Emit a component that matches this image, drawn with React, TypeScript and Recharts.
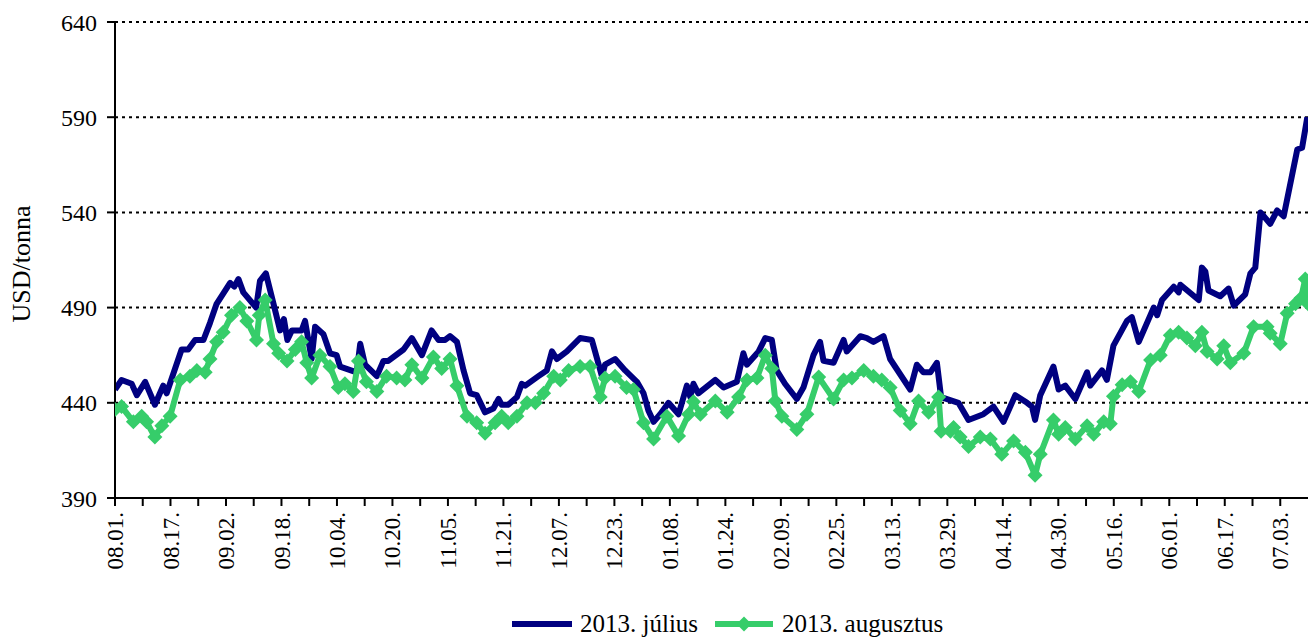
import React from 'react';
import { LineChart, Line, XAxis, YAxis, CartesianGrid, Legend, Label } from 'recharts';

// days counted from 2012.08.01.
const julDays = [
  0, 1.9, 4.8, 6.3, 8.7, 11.5, 13.9, 14.9, 19.2, 21.1, 23.1, 25.5, 27.4, 29.3, 33.2, 34.4, 35.6, 37, 40.7, 41.8,
  43.5, 45.7, 47.6, 48.7, 49.7, 51, 53.8, 54.8, 56.7, 57.7, 60.1, 62, 63.9, 64.9, 69.7, 70.7, 72.1, 75.5, 77.4, 78.8,
  83.2, 85.6, 88.5, 91.3, 93.3, 95.2, 96.6, 98.6, 100.5, 102.4, 104.3, 106.7, 109.1, 110.6, 111.5, 113.4, 115.9, 117.3, 118.3, 119.8,
  122.1, 124.5, 126, 127.4, 130.3, 134.1, 137.5, 140.4, 141.3, 144.2, 147.1, 150.5, 152.4, 153.8, 155.3, 157.2, 159.6, 162.5, 164.9, 165.9,
  166.8, 168.2, 173.1, 175.5, 179.3, 181.2, 182.2, 185.6, 187.5, 189.4, 190.8, 193.2, 196.6, 198.5, 201.4, 203.3, 204.3, 207.2, 210.1, 211,
  214.9, 216.8, 218.7, 221.6, 223.5, 226.4, 229.3, 231.2, 233.1, 235.1, 237, 238.2, 243.2, 246.1, 250.4, 253.3, 256.2, 259.6, 263, 264.4,
  265.3, 266.8, 270.6, 272.1, 274, 276.9, 280.3, 281.2, 284.6, 286, 287.9, 291.8, 293.2, 295.2, 299.5, 300.5, 301.9, 305.3, 306.7, 307.2,
  312.5, 313.4, 314.4, 315.3, 318.7, 321.1, 322.6, 325.9, 327.4, 328.8, 330.3, 333.1, 335.1, 337, 340.9, 342.3, 343.8,
];
const julValues = [
  447, 452, 450, 444, 451, 439, 449, 445, 468, 468, 473, 473, 482, 492, 503, 501, 505, 498, 490, 504,
  508, 492, 478, 484, 473, 478, 478, 483, 463, 480, 476, 466, 465, 459, 456, 471, 460, 454, 462, 462,
  468, 474, 465, 478, 473, 473, 475, 472, 457, 445, 444, 435, 437, 442, 439, 439, 443, 450, 449, 451,
  454, 457, 467, 463, 467, 474, 473, 454, 460, 463, 457, 451, 445, 436, 430, 434, 440, 434, 449, 443,
  450, 445, 452, 448, 451, 466, 460, 467, 474, 473, 457, 450, 442, 448, 465, 472, 462, 461, 473, 467,
  475, 474, 472, 475, 463, 455, 447, 460, 456, 456, 461, 443, 440, 431, 434, 438, 430, 444, 440, 438,
  431, 444, 459, 447, 449, 442, 456, 449, 457, 452, 470, 483, 485, 472, 490, 486, 494, 501, 498, 502,
  494, 511, 509, 499, 496, 500, 491, 497, 508, 511, 540, 534, 541, 538, 573, 574, 590,
];

const augDays = [
  0, 1.9, 5.3, 7.7, 9.1, 11.5, 13.5, 15.9, 18.8, 21.6, 23.6, 26, 27.4, 29.3, 31.2, 33.6, 36, 38, 40.8, 41.6,
  43.3, 45.7, 47.2, 49.6, 52, 53.8, 55.3, 56.7, 59.1, 62, 64.4, 66.3, 68.7, 70.2, 72.5, 75.5, 78.3, 81.2, 83.6, 85.6,
  88.5, 91.8, 94.2, 96.6, 98.6, 101.5, 104.3, 106.7, 109.6, 111.5, 113.4, 115.9, 118.8, 121.2, 123.6, 126.5, 128.4, 130.8, 134.1, 137,
  139.9, 141.3, 144.2, 147.5, 149.5, 152.4, 155.3, 159.1, 162.5, 165.4, 166.8, 168.8, 173.1, 176.5, 179.8, 182.2, 185.1, 187.5, 189.4, 190.4,
  192.3, 196.6, 199.5, 202.9, 207.2, 210.1, 212.5, 215.9, 218.7, 221.1, 223.5, 226.4, 229.3, 231.7, 234.6, 237.5, 238.2, 240.9, 241.8, 243.7,
  246.1, 249.5, 252.4, 255.7, 259.1, 262.5, 265.3, 266.8, 270.6, 272.1, 274, 276.9, 280.3, 282.2, 285.1, 287, 287.9, 290.4, 292.8, 295.2,
  298.6, 301.4, 304.3, 306.7, 309.1, 311.5, 313.4, 314.9, 317.8, 319.7, 321.6, 325.5, 328.3, 332.2, 333.1, 336, 338, 340.4, 342, 343.2,
  344,
];
const augValues = [
  436.5, 438, 430, 433, 430, 422, 428, 433, 452, 454, 457, 456, 463, 472, 477, 486, 490, 483, 473, 486,
  494, 471, 466, 462, 468, 472, 461, 453, 465, 459, 448, 450, 446, 462, 451, 446, 454, 453, 452, 460,
  453, 464, 458, 463, 449, 433, 429.5, 424, 429.5, 433, 429.5, 433, 440, 440, 445, 454, 452, 457, 459, 459,
  443, 453, 454, 448, 447, 429.5, 421, 433, 422.5, 434, 440.5, 434, 441, 435, 443, 452, 453, 465, 458, 441,
  433, 426, 434, 453.5, 442, 452, 453, 457, 454, 452, 448, 436, 429, 441, 435, 443, 425, 425, 427, 422,
  417, 422, 421, 413, 420, 414, 402, 413, 431, 423.5, 427, 421, 428, 423.5, 430, 429, 443.5, 449.5, 451, 446,
  462.5, 465, 475.5, 477, 474, 470, 477, 467, 463, 470, 461, 466, 480, 480, 476.5, 471, 487, 492, 495, 505,
  492,
];

const xTicks = [
  0, 8, 16, 24, 32, 40, 48, 56, 64, 72, 80, 88, 96, 104, 112, 120, 128, 136, 144, 152, 160, 168,
  176, 184, 192, 200, 208, 216, 224, 232, 240, 248, 256, 264, 272, 280, 288, 296, 304, 312, 320, 328, 336,
];
const xLabels = [
  '08.01.', '08.17.', '09.02.', '09.18.', '10.04.', '10.20.', '11.05.', '11.21.', '12.07.', '12.23.', '01.08.',
  '01.24.', '02.09.', '02.25.', '03.13.', '03.29.', '04.14.', '04.30.', '05.16.', '06.01.', '06.17.', '07.03.',
];
const yTicks = [390, 440, 490, 540, 590, 640];

const julData = julDays.map((day, i) => ({ day, jul: julValues[i] }));
const augData = augDays.map((day, i) => ({ day, aug: augValues[i] }));

const FONT = '"Liberation Serif", "Times New Roman", serif';
const BLUE = '#000080';
const GREEN = '#36CD6A';

const DateTick = (props: any) => {
  const { x, y, payload } = props;
  const d = payload.value;
  if (d % 16 !== 0) return null;
  const label = xLabels[d / 16];
  const ty = y + 4;
  return (
    <text
      x={x}
      y={ty}
      dy="0.35em"
      transform={`rotate(-90, ${x}, ${ty})`}
      textAnchor="end"
      fontSize={23}
      fontFamily={FONT}
      fill="#000"
    >
      {label}
    </text>
  );
};

const Diamond = (props: any) => {
  const { cx, cy } = props;
  if (cx == null || cy == null) return null;
  const r = 7.5;
  return (
    <polygon
      points={`${cx},${cy - r} ${cx + r},${cy} ${cx},${cy + r} ${cx - r},${cy}`}
      fill={GREEN}
      stroke="none"
    />
  );
};

const renderLegend = () => (
  <div style={{ display: 'flex', alignItems: 'center', fontFamily: FONT, fontSize: 25, color: '#000', whiteSpace: 'nowrap' }}>
    <svg width={62} height={16} style={{ marginRight: 7 }}>
      <line x1={1} y1={8} x2={61} y2={8} stroke={BLUE} strokeWidth={6} />
    </svg>
    <span style={{ marginRight: 16 }}>2013. július</span>
    <svg width={60} height={16} style={{ marginRight: 8 }}>
      <line x1={1} y1={8} x2={59} y2={8} stroke={GREEN} strokeWidth={6} />
      <polygon points="30,0.5 37.5,8 30,15.5 22.5,8" fill={GREEN} />
    </svg>
    <span>2013. augusztus</span>
  </div>
);

const renderTitle = () => (
  <text
    x={30}
    y={264}
    transform="rotate(-90, 30, 264)"
    textAnchor="middle"
    fontSize={26}
    fontFamily={FONT}
    fill="#000"
  >
    USD/tonna
  </text>
);

export default function App() {
  return (
    <div style={{ position: 'absolute', left: 0, top: 0, width: 1308, height: 640, background: '#fff' }}>
      <LineChart width={1308} height={640} margin={{ top: 22, right: 0, bottom: 0, left: 0 }}>
        <CartesianGrid horizontal vertical={false} stroke="#000" strokeWidth={2} strokeDasharray="3 4" />
        <XAxis
          type="number"
          dataKey="day"
          domain={[0, 344]}
          ticks={xTicks}
          interval={0}
          height={142}
          tick={<DateTick />}
          tickSize={8}
          tickLine={{ stroke: '#000', strokeWidth: 2 }}
          axisLine={{ stroke: '#000', strokeWidth: 2 }}
          allowDataOverflow
        />
        <YAxis
          type="number"
          domain={[390, 640]}
          ticks={yTicks}
          interval={0}
          width={115}
          tickSize={8}
          tickMargin={10}
          tick={{ fill: '#000', fontSize: 24, fontFamily: FONT }}
          tickLine={{ stroke: '#000', strokeWidth: 2 }}
          axisLine={{ stroke: '#000', strokeWidth: 2 }}
          allowDataOverflow
        >
          <Label content={renderTitle} />
        </YAxis>
        <Line
          data={julData}
          dataKey="jul"
          type="linear"
          stroke={BLUE}
          strokeWidth={6}
          strokeLinejoin="round"
          dot={false}
          activeDot={false}
          isAnimationActive={false}
          name="2013. július"
        />
        <Line
          data={augData}
          dataKey="aug"
          type="linear"
          stroke={GREEN}
          strokeWidth={6}
          strokeLinejoin="round"
          dot={<Diamond />}
          activeDot={false}
          isAnimationActive={false}
          name="2013. augusztus"
        />
        <Legend
          verticalAlign="middle"
          align="center"
          content={renderLegend}
          wrapperStyle={{ position: 'absolute', top: 610, left: 511, width: 'auto' }}
        />
      </LineChart>
    </div>
  );
}
